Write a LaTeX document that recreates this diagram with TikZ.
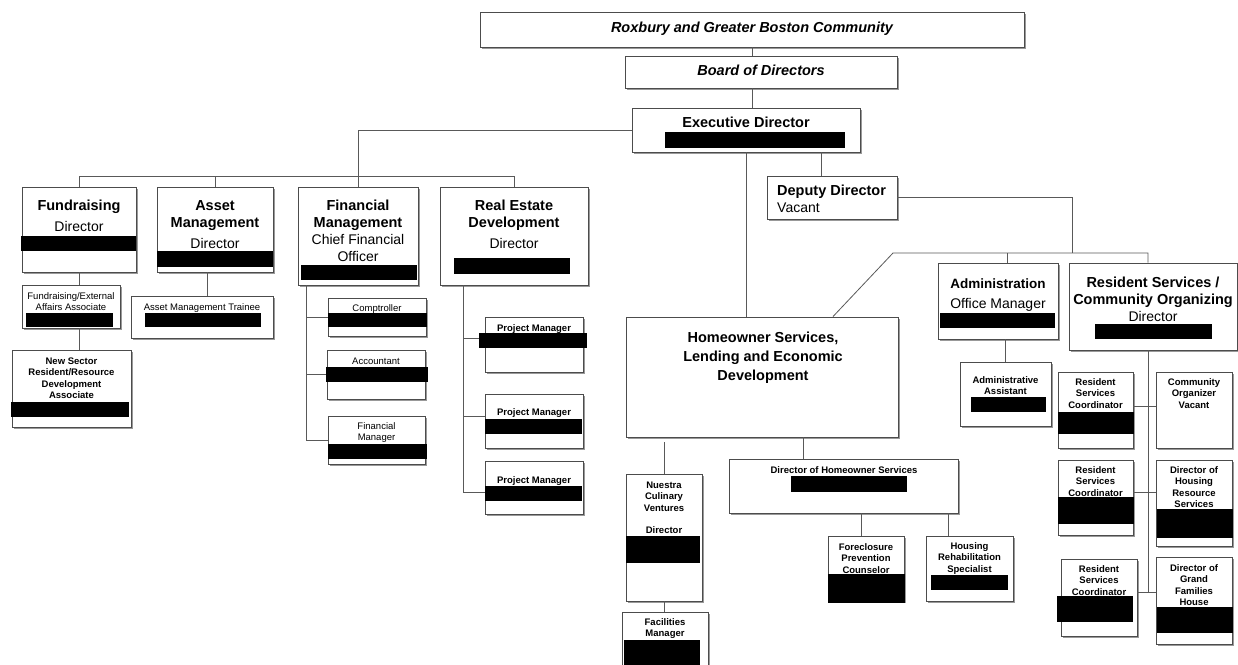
\documentclass[tikz,border=0pt]{standalone}
\usepackage{fontspec}
\setmainfont{Liberation Sans}
\usetikzlibrary{shadows}
\newcommand{\regln}{\mdseries\fontsize{14}{17}\selectfont}

\begin{document}
\begin{tikzpicture}[x=1pt,y=-1pt,
    box/.style={draw=black!70, line width=0.9pt, fill=white, inner sep=0pt,
      drop shadow={shadow xshift=1.8pt, shadow yshift=-1.8pt, fill=black!40, opacity=1}},
    conn/.style={draw=black!65, line width=0.8pt},
    hd/.style={font=\fontsize{14.5}{17}\selectfont\bfseries, align=center, anchor=base, inner sep=0pt},
    sm/.style={font=\fontsize{9.5}{11.3}\selectfont, align=center, anchor=base, inner sep=0pt},
    smb/.style={sm, font=\fontsize{9.5}{11.3}\selectfont\bfseries},
    redact/.style={fill=black}]
    \useasboundingbox (0,0) rectangle (1238,664);

    % boxes
    \node[box, minimum width=544pt, minimum height=35pt] (rox) at (752,29.5) {};
    \node[box, minimum width=272pt, minimum height=32pt] (board) at (761,72) {};
    \node[box, minimum width=228pt, minimum height=44pt] (exec) at (746,130) {};
    \node[box, minimum width=130pt, minimum height=43pt] (deputy) at (832,197.5) {};
    \node[box, minimum width=114pt, minimum height=85pt] (fund) at (79,229.5) {};
    \node[box, minimum width=116pt, minimum height=85pt] (asset) at (215,229.5) {};
    \node[box, minimum width=120pt, minimum height=98pt] (finmgmt) at (358,236) {};
    \node[box, minimum width=148pt, minimum height=98pt] (realest) at (514,236) {};
    \node[box, minimum width=98pt, minimum height=43pt] (fea) at (71,306.5) {};
    \node[box, minimum width=119pt, minimum height=77pt] (newsec) at (71.5,388.5) {};
    \node[box, minimum width=142pt, minimum height=42pt] (amt) at (202,317) {};
    \node[box, minimum width=98pt, minimum height=38pt] (comp) at (377,317) {};
    \node[box, minimum width=98pt, minimum height=49pt] (acct) at (376,374.5) {};
    \node[box, minimum width=97pt, minimum height=48pt] (finman) at (376.5,440) {};
    \node[box, minimum width=98pt, minimum height=55pt] (pm1) at (534,344.5) {};
    \node[box, minimum width=98pt, minimum height=54pt] (pm2) at (534,421) {};
    \node[box, minimum width=98pt, minimum height=53pt] (pm3) at (534,487.5) {};
    \node[box, minimum width=272pt, minimum height=120pt] (homeown) at (762,377) {};
    \node[box, minimum width=76pt, minimum height=127pt] (nuestra) at (664,537.5) {};
    \node[box, minimum width=86pt, minimum height=78pt] (facil) at (665,651) {};
    \node[box, minimum width=229pt, minimum height=54pt] (dhs) at (843.5,486) {};
    \node[box, minimum width=76pt, minimum height=65pt] (forecl) at (866,568.5) {};
    \node[box, minimum width=87pt, minimum height=65pt] (hrehab) at (969.5,568.5) {};
    \node[box, minimum width=120pt, minimum height=76pt] (admin) at (998,301) {};
    \node[box, minimum width=168pt, minimum height=87pt] (ressvc) at (1153,306.5) {};
    \node[box, minimum width=91pt, minimum height=64pt] (adasst) at (1005.5,394) {};
    \node[box, minimum width=75pt, minimum height=76pt] (rsc1) at (1095.5,410) {};
    \node[box, minimum width=76pt, minimum height=76pt] (comorg) at (1194,410) {};
    \node[box, minimum width=75pt, minimum height=75pt] (rsc2) at (1095.5,497.5) {};
    \node[box, minimum width=76pt, minimum height=86pt] (dhrs) at (1194,503) {};
    \node[box, minimum width=76pt, minimum height=77pt] (rsc3) at (1099,597.5) {};
    \node[box, minimum width=76pt, minimum height=87pt] (dgfh) at (1194,600.5) {};

    % top chain
    \draw[conn] (rox.south) -- (rox.south |- board.north);
    \draw[conn] (rox.south |- board.south) -- (rox.south |- exec.north);

    % left branch
    \coordinate (lbar) at (0,176);
    \draw[conn] (exec.west) -| (finmgmt.north);
    \draw[conn] (fund.north) |- (lbar -| realest.north) -- (realest.north);
    \draw[conn] (asset.north) -- (asset.north |- lbar);
    \draw[conn] (fund.south) -- (fund.south |- fea.north);
    \draw[conn] (fund.south |- fea.south) -- (fund.south |- newsec.north);
    \coordinate (amtc) at ([xshift=5pt]amt.north);
    \draw[conn] (amtc) -- (amtc |- asset.south);
    \coordinate (fspine) at ([xshift=-52pt]finmgmt.south);
    \draw[conn] (fspine) |- (finman.west);
    \draw[conn] (fspine |- comp.west) -- (comp.west);
    \draw[conn] (fspine |- acct.west) -- (acct.west);
    \coordinate (rspine) at ([xshift=-51pt]realest.south);
    \coordinate (pm1c) at ([yshift=6.5pt]pm1.west);
    \coordinate (pm2c) at ([yshift=5pt]pm2.west);
    \coordinate (pm3c) at ([yshift=-4.5pt]pm3.west);
    \draw[conn] (rspine) |- (pm3c);
    \draw[conn] (rspine |- pm1c) -- (pm1c);
    \draw[conn] (rspine |- pm2c) -- (pm2c);

    % centre
    \draw[conn] (exec.south) -- (exec.south |- homeown.north);
    \coordinate (depc) at ([xshift=-11pt]deputy.north);
    \draw[conn] (depc) -- (depc |- exec.south);
    \draw[conn, shorten <=5pt] (nuestra.north |- homeown.south) -- (nuestra.north);
    \draw[conn] (nuestra.south) -- (nuestra.south |- facil.north);
    \coordinate (dhsc) at ([xshift=-40.5pt]dhs.north);
    \draw[conn] (dhsc |- homeown.south) -- (dhsc);
    \coordinate (forc) at ([xshift=-5pt]forecl.north);
    \draw[conn] (forc |- dhs.south) -- (forc);
    \coordinate (hrc) at ([xshift=-21.5pt]hrehab.north);
    \draw[conn] (hrc |- dhs.south) -- (hrc);

    % right branch
    \coordinate (rjoin) at (1072,253);
    \coordinate (dgl) at (893,253);
    \draw[conn] (deputy.east) -| (rjoin);
    \coordinate (rsvc) at ([xshift=-5pt]ressvc.north);
    \draw[conn] ([xshift=71pt]homeown.north) -- (dgl) -- (dgl -| rsvc) -- (rsvc);
    \coordinate (admc) at ([xshift=9pt]admin.north);
    \draw[conn] (admc) -- (admc |- dgl);
    \draw[conn] (adasst.north) -- (adasst.north |- admin.south);
    \coordinate (spine) at ([xshift=-5pt]ressvc.south);
    \coordinate (r1c) at ([yshift=4pt]rsc1.east);
    \coordinate (r2c) at ([yshift=5.5pt]rsc2.east);
    \coordinate (r3c) at ([yshift=5.5pt]rsc3.east);
    \draw[conn] (spine) -- (spine |- r3c);
    \draw[conn] (r1c) -- (r1c -| comorg.west);
    \draw[conn] (r2c) -- (r2c -| dhrs.west);
    \draw[conn] (r3c) -- (r3c -| dgfh.west);

    % titles (base = last line)
    \node[hd, font=\fontsize{14.5}{17}\selectfont\bfseries\itshape] (roxtxt) at (752,32) {Roxbury and Greater Boston Community};
    \node[hd, font=\fontsize{14.5}{17}\selectfont\bfseries\itshape] (boardtxt) at (761,75) {Board of Directors};
    \node[hd] (exectxt) at (746,127) {Executive Director};
    \node[hd, align=left, anchor=base west] (deptxt) at (777,212) {Deputy Director\\{\regln Vacant}};
    \node[hd] (fundtxt) at (79,231) {Fundraising\\[4pt]{\regln Director}};
    \node[hd] (assettxt) at (215,248) {Asset\\Management\\[4pt]{\regln Director}};
    \node[hd] (fintxt) at (358,261) {Financial\\Management\\{\regln Chief Financial}\\{\regln Officer}};
    \node[hd] (retxt) at (514,248) {Real Estate\\Development\\[4pt]{\regln Director}};
    \node[hd, font=\fontsize{14.5}{19}\selectfont\bfseries] (hotxt) at (763,380) {Homeowner Services,\\Lending and Economic\\Development};
    \node[hd, font=\fontsize{13.5}{17}\selectfont\bfseries] (admtxt) at (998,308) {Administration\\[3pt]{\regln Office Manager}};
    \node[hd] (rstxt) at (1153,321) {Resident Services /\\Community Organizing\\{\regln Director}};

    % small labels
    \node[sm] (featxt) at (71,310.8) {Fundraising/External\\Affairs Associate};
    \node[smb] (nstxt) at (71.5,398.4) {New Sector\\Resident/Resource\\Development\\Associate};
    \node[sm] (amttxt) at (202,310.5) {Asset Management Trainee};
    \node[sm] (comptxt) at (377,311.5) {Comptroller};
    \node[sm] (accttxt) at (376,364.5) {Accountant};
    \node[sm] (fmantxt) at (376.5,440.8) {Financial\\Manager};
    \node[smb] (pm1txt) at (534,331.5) {Project Manager};
    \node[smb] (pm2txt) at (534,415.5) {Project Manager};
    \node[smb] (pm3txt) at (534,483.5) {Project Manager};
    \node[smb] (nuetxt) at (664,533.7) {Nuestra\\Culinary\\Ventures\\[11.3pt]Director};
    \node[smb] (factxt) at (665,636.8) {Facilities\\Manager};
    \node[smb] (dhstxt) at (844,473.5) {Director of Homeowner Services};
    \node[smb] (fortxt) at (866,573.1) {Foreclosure\\Prevention\\Counselor};
    \node[smb] (hrtxt) at (969.5,572.1) {Housing\\Rehabilitation\\Specialist};
    \node[smb] (aatxt) at (1005.5,394.8) {Administrative\\Assistant};
    \node[smb] (rsc1txt) at (1095.5,408.1) {Resident\\Services\\Coordinator};
    \node[smb] (cotxt) at (1194,408.1) {Community\\Organizer\\Vacant};
    \node[smb] (rsc2txt) at (1095.5,496.1) {Resident\\Services\\Coordinator};
    \node[smb] (dhrstxt) at (1194,507.4) {Director of\\Housing\\Resource\\Services};
    \node[smb] (rsc3txt) at (1099,595.1) {Resident\\Services\\Coordinator};
    \node[smb] (dgfhtxt) at (1194,605.4) {Director of\\Grand\\Families\\House};

    % blacked-out names
    \foreach \xa/\ya/\xb/\yb in {665/132/845/148, 21/236/136/251, 157/251/273/267,
        301/265/417/280, 454/258/570/274, 26/313/113/327, 11/402/129/417,
        145/313/261/327, 328/313/427/327, 326/367/428/382, 328/444/427/459,
        479/333/587/348, 485/419/582/434, 485/486/582/501, 626/536/700/563,
        624/640/700/670, 791/476/907/492, 828/574/905/603, 931/575/1008/590,
        940/313/1055/328, 1095/324/1212/339, 971/397/1046/412, 1058/412/1134/434,
        1058/497/1134/524, 1157/509/1233/538, 1057/596/1133/622, 1157/607/1233/633}
      \fill[redact] (\xa,\ya) rectangle (\xb,\yb);
\end{tikzpicture}
\end{document}
